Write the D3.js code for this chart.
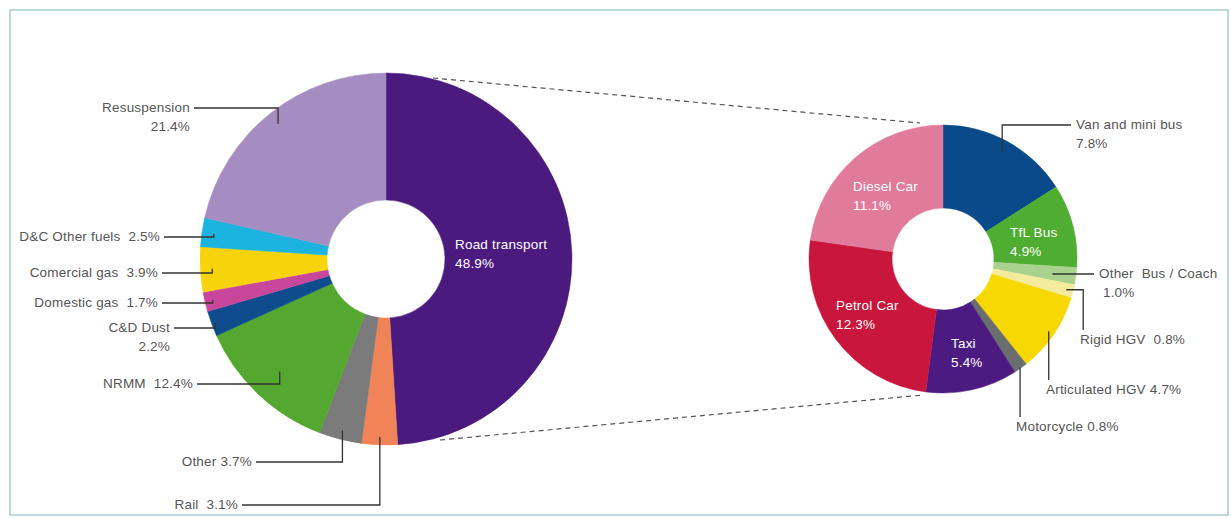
<!DOCTYPE html>
<html>
<head>
<meta charset="utf-8">
<script src="https://cdn.jsdelivr.net/npm/d3@7"></script>
<style>
  body { margin: 0; background: #fff; }
  text { font-family: "Liberation Sans", Arial, sans-serif; white-space: pre; }
</style>
</head>
<body>
<div id="chart"></div>
<script>
/* source shares (% of total PM emissions) */
const sourceNames = ["Road transport", "Rail", "Other", "NRMM", "C&D Dust",
    "Domestic gas", "Comercial gas", "D&C Other fuels", "Resuspension"];
const sourceValues = [48.9, 3.1, 3.7, 12.4, 2.2, 1.7, 3.9, 2.5, 21.4];
const sourceColors = ["#4a1a7f", "#f08458", "#7b7b7b", "#55a82f", "#0f4c8d",
    "#c8479d", "#f6d30a", "#1cb3df", "#a58dc1"];

/* road transport breakdown (% of total) */
const roadNames = ["Van and mini bus", "TfL Bus", "Other  Bus / Coach", "Rigid HGV",
    "Articulated HGV", "Motorcycle", "Taxi", "Petrol Car", "Diesel Car"];
const roadValues = [7.8, 4.9, 1.0, 0.8, 4.7, 0.8, 5.4, 12.3, 11.1];
const roadColors = ["#0b4a8a", "#4fad31", "#a9d28f", "#f4ec9c", "#f7d800",
    "#6b6e6e", "#4b1b82", "#c8163c", "#e17b9b"];

const W = 1231, H = 519;
const svg = d3.select("#chart").append("svg")
    .attr("width", W).attr("height", H);

/* frame */
svg.append("rect")
    .attr("x", 10).attr("y", 10)
    .attr("width", 1218).attr("height", 505)
    .attr("fill", "none")
    .attr("stroke", "#a6cfd0")
    .attr("stroke-width", 1.5);

const textColor = "#555555";

/* label layout: text lines, position, leader style */
const leftLabels = {
    "Resuspension":    { lines: ["Resuspension", "21.4%"], x: 190, y: 112, anchor: "end", r: 173, leader: "side" },
    "D&C Other fuels": { lines: ["D&C Other fuels  2.5%"], x: 160, y: 241, anchor: "end", r: 174, leader: "side" },
    "Comercial gas":   { lines: ["Comercial gas  3.9%"], x: 158, y: 277, anchor: "end", r: 174, leader: "side" },
    "Domestic gas":    { lines: ["Domestic gas  1.7%"], x: 158, y: 307, anchor: "end", r: 178, leader: "side" },
    "C&D Dust":        { lines: ["C&D Dust", "2.2%"], x: 170, y: 332, anchor: "end", r: 182, leader: "side" },
    "NRMM":            { lines: ["NRMM  12.4%"], x: 193, y: 388, anchor: "end", r: 155, leader: "side" },
    "Other":           { lines: ["Other 3.7%"], x: 252, y: 466, anchor: "end", r: 177, leader: "side" },
    "Rail":            { lines: ["Rail  3.1%"], x: 238, y: 509, anchor: "end", r: 178, leader: "side" },
    "Road transport":  { lines: ["Road transport", "48.9%"], x: 455, y: 249, anchor: "start", inside: true }
};
const rightLabels = {
    "Van and mini bus":   { lines: ["Van and mini bus", "7.8%"], x: 1076, y: 129, anchor: "start", r: 123, leader: "side" },
    "TfL Bus":            { lines: ["TfL Bus", "4.9%"], x: 1010, y: 237, anchor: "start", inside: true },
    "Other  Bus / Coach": { lines: ["Other  Bus / Coach", " 1.0%"], x: 1099, y: 278, anchor: "start", r: 111, leader: "side" },
    "Rigid HGV":          { lines: ["Rigid HGV  0.8%"], x: 1080, y: 344, anchor: "start", r: 127, leader: "drop", dx: 17 },
    "Articulated HGV":    { lines: ["Articulated HGV 4.7%"], x: 1046, y: 394, anchor: "start", r: 128, leader: "drop", dx: 0 },
    "Motorcycle":         { lines: ["Motorcycle 0.8%"], x: 1016, y: 431, anchor: "start", r: 133, leader: "drop", dx: 0 },
    "Taxi":               { lines: ["Taxi", "5.4%"], x: 951, y: 348, anchor: "start", inside: true },
    "Petrol Car":         { lines: ["Petrol Car", "12.3%"], x: 836, y: 310, anchor: "start", inside: true },
    "Diesel Car":         { lines: ["Diesel Car", "11.1%"], x: 853, y: 191, anchor: "start", inside: true }
};

const pie = d3.pie().sort(null).value(d => d.value);

function drawDonut(opts) {
    const data = opts.names.map((n, i) => ({ name: n, value: opts.values[i], color: opts.colors[i] }));
    const arcs = pie(data);
    const g = svg.append("g").attr("transform", `translate(${opts.cx},${opts.cy})`);
    const arc = d3.arc().innerRadius(opts.inner).outerRadius(opts.outer);

    g.selectAll("path.slice").data(arcs).enter()
        .append("path")
        .attr("class", "slice")
        .attr("d", arc)
        .attr("fill", d => d.data.color)
        .attr("stroke", d => d.data.color)
        .attr("stroke-width", 0.5);

    /* labels and leader lines */
    arcs.forEach(d => {
        const lab = opts.labels[d.data.name];
        if (!lab) return;
        const fill = lab.inside ? "#ffffff" : textColor;
        const t = svg.append("text")
            .attr("x", lab.x).attr("y", lab.y)
            .attr("text-anchor", lab.anchor)
            .attr("font-size", 13.5)
            .attr("letter-spacing", 0.2)
            .attr("fill", fill);
        lab.lines.forEach((s, i) => {
            t.append("tspan")
                .attr("x", lab.x)
                .attr("dy", i === 0 ? 0 : 19)
                .text(s);
        });
        if (lab.inside) return;

        /* anchor point on the slice, along its middle angle */
        const mid = (d.startAngle + d.endAngle) / 2;
        const ax = opts.cx + lab.r * Math.sin(mid);
        const ay = opts.cy - lab.r * Math.cos(mid);
        let pts;
        if (lab.leader === "side") {
            const ly = lab.y - 4;
            const bbox = t.node().getBBox();
            const ex = lab.anchor === "end" ? lab.x + 4 : lab.x - 5;
            pts = [[ax, ay], [ax, ly], [ex, ly]];
        } else {
            const ex = ax + lab.dx;
            pts = [[ax, ay], [ex, ay], [ex, lab.y - 14]];
        }
        svg.append("path")
            .attr("d", d3.line()(pts))
            .attr("fill", "none")
            .attr("stroke", "#333")
            .attr("stroke-width", 1.3);
    });
    return arcs;
}

const L = { cx: 386, cy: 259, inner: 59, outer: 186 };
const R = { cx: 943, cy: 259, inner: 51, outer: 134 };

/* dashed connectors from road transport slice to the breakdown donut */
const connectors = [
    [[L.cx + 47, L.cy - 181], [R.cx - 23, R.cy - 136]],
    [[L.cx + 54, L.cy + 181], [R.cx - 20, R.cy + 136]]
];
connectors.forEach(c => {
    svg.append("path")
        .attr("d", d3.line()(c))
        .attr("stroke", "#555")
        .attr("stroke-width", 1.2)
        .attr("stroke-dasharray", "5,4")
        .attr("fill", "none");
});

drawDonut(Object.assign({ names: sourceNames, values: sourceValues, colors: sourceColors, labels: leftLabels }, L));
drawDonut(Object.assign({ names: roadNames, values: roadValues, colors: roadColors, labels: rightLabels }, R));
</script>
</body>
</html>
